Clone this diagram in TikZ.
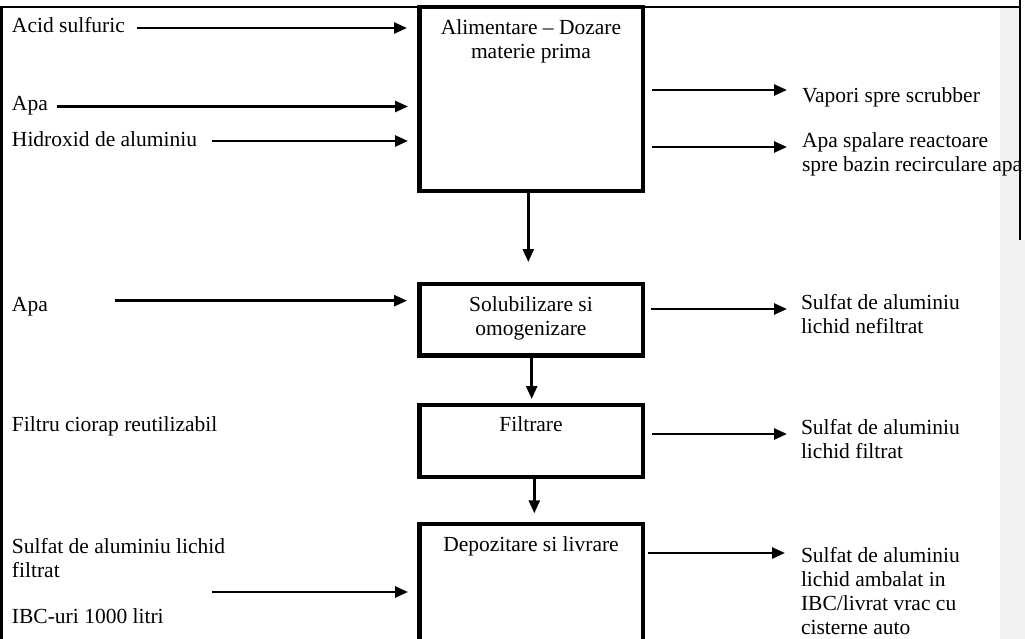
\documentclass[tikz,border=0pt]{standalone}
\usepackage{fontspec}
\setmainfont{Liberation Serif}
\usetikzlibrary{arrows.meta}
\begin{document}
\begin{tikzpicture}[x=1pt,y=-1pt,
  every node/.style={inner sep=0pt, outer sep=0pt, font=\fontsize{21.5}{24}\selectfont},
  stage/.style={draw, line width=4.4pt, minimum width=223.4pt},
  lbl/.style={anchor=base west, align=left},
  ttl/.style={anchor=base, align=center},
  flow/.style={line width=2.6pt, -{Triangle[length=13pt,width=11pt]}},
  rule/.style={line width=2.8pt}]
\useasboundingbox (0,0) rectangle (1025,639);
\clip (0,0) rectangle (1025,639);

% shaded margin column and frame
\fill[black!5] (1000,8) rectangle (1025,639);
\fill[white] (1021,0) rectangle (1025,240);
\draw[rule] (0,7) -- (1020,7);
\draw[rule] (1.3,7) -- (1.3,639);
\draw[line width=2.4pt] (1020,0) -- (1020,240);

% process stages (multi-line texts are placed by the baseline of their last line)
\node[stage, minimum height=184pt] (feed) at (531,99.3) {};
\node[stage, minimum height=71.3pt] (dissolve) at (531,319.7) {};
\node[stage, minimum height=72pt] (filter) at (531,440.7) {};
\node[stage, minimum height=140pt] (store) at (531,594) {};

\node[ttl] (feedT) at (531,58.3) {Alimentare – Dozare\\materie prima};
\node[ttl] (dissolveT) at (531,335) {Solubilizare si\\omogenizare};
\node[ttl] (filterT) at (531,431.7) {Filtrare};
\node[ttl] (storeT) at (531,551.7) {Depozitare si livrare};

% inputs
\node[lbl] (acid) at (12,32.3) {Acid sulfuric};
\node[lbl] (water1) at (12,111) {Apa};
\node[lbl] (hydrox) at (12,147) {Hidroxid de aluminiu};
\node[lbl] (water2) at (12,311.7) {Apa};
\node[lbl] (sock) at (12,431.7) {Filtru ciorap reutilizabil};
\node[lbl] (liquidIn) at (12,577) {Sulfat de aluminiu lichid\\filtrat};
\node[lbl] (ibc) at (12,623) {IBC-uri 1000 litri};

% outputs
\node[lbl] (vapour) at (802,102.5) {Vapori spre scrubber};
\node[lbl] (washW) at (802,171.5) {Apa spalare reactoare\\spre bazin recirculare apa};
\node[lbl] (unfilt) at (801,333.5) {Sulfat de aluminiu\\lichid nefiltrat};
\node[lbl] (filt) at (801,458) {Sulfat de aluminiu\\lichid filtrat};
\node[lbl] (packed) at (801,634) {Sulfat de aluminiu\\lichid ambalat in\\IBC/livrat vrac cu\\cisterne auto};

% arrow end points
\coordinate (acidS) at (137,28);     \coordinate (acidE) at (407,28);
\coordinate (w1S) at (57,106.5);     \coordinate (w1E) at (408,106.5);
\coordinate (hyS) at (212,141);      \coordinate (hyE) at (408,141);
\coordinate (w2S) at (115,300.7);    \coordinate (w2E) at (407,300.7);
\coordinate (liqS) at (212,592);     \coordinate (liqE) at (408,592);
\coordinate (vapS) at (652,90);      \coordinate (vapE) at (787,90);
\coordinate (washS) at (652,147);    \coordinate (washE) at (787,147);
\coordinate (unfS) at (651,309);     \coordinate (unfE) at (787,309);
\coordinate (filS) at (652,434);     \coordinate (filE) at (787,434);
\coordinate (packS) at (648,553);    \coordinate (packE) at (785,553);
\coordinate (d1) at (528.3,262);
\coordinate (d2) at (531.7,399);
\coordinate (d3) at (534.3,513.3);

\draw[flow] (acidS) -- (acidE);
\draw[flow] (w1S) -- (w1E);
\draw[flow] (hyS) -- (hyE);
\draw[flow] (w2S) -- (w2E);
\draw[flow] (liqS) -- (liqE);
\draw[flow] (vapS) -- (vapE);
\draw[flow] (washS) -- (washE);
\draw[flow] (unfS) -- (unfE);
\draw[flow] (filS) -- (filE);
\draw[flow] (packS) -- (packE);
\draw[flow] (feed.south -| d1) -- (d1);
\draw[flow] (dissolve.south -| d2) -- (d2);
\draw[flow] (filter.south -| d3) -- (d3);
\end{tikzpicture}
\end{document}
